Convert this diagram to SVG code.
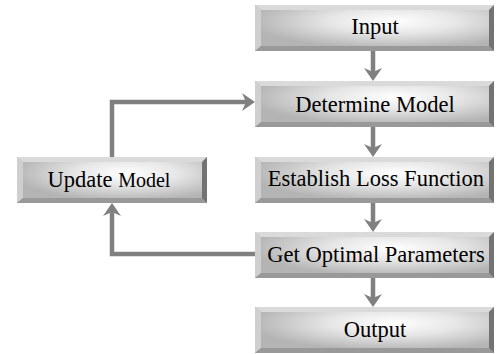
<svg xmlns="http://www.w3.org/2000/svg" width="501" height="354" viewBox="0 0 501 354">
<defs>
<radialGradient id="face" cx="0.58" cy="0.35" r="0.6" gradientUnits="objectBoundingBox">
<stop offset="0" stop-color="#ffffff"/>
<stop offset="0.45" stop-color="#e6e6e6"/>
<stop offset="1" stop-color="#b4b4b4"/>
</radialGradient>
<marker id="arr" markerUnits="userSpaceOnUse" markerWidth="20" markerHeight="20" viewBox="-14 -10 16 20" refX="-9" refY="0" orient="auto">
<path d="M0,0 L-13,-9 L-9,0 L-13,9 Z" fill="#808080"/>
</marker>
<style>
.face{fill:url(#face)}
.bt{fill:#dadada}
.bl{fill:#cfcfcf}
.bb{fill:#999999}
.br{fill:#737373}
.lbl{font-family:'Liberation Serif','DejaVu Serif',serif;font-size:22.5px;fill:#000;text-anchor:middle}
.con{fill:none;stroke:#808080;stroke-width:4.5}
</style>
</defs>
<rect width="501" height="354" fill="#ffffff"/>
<g id="connectors">
<path class="con" d="M373,51 V72" marker-end="url(#arr)"/>
<path class="con" d="M373,127 V148" marker-end="url(#arr)"/>
<path class="con" d="M373,203 V223" marker-end="url(#arr)"/>
<path class="con" d="M373,278 V298" marker-end="url(#arr)"/>
<path class="con" d="M112,157 V102 H246" marker-end="url(#arr)"/>
<path class="con" d="M256,254 H112 V212" marker-end="url(#arr)"/>
</g>
<g id="input" transform="translate(255,5)">
<rect class="face" x="0" y="0" width="239" height="46"/>
<polygon class="bt" points="0,0 239,0 234,5 6,5"/>
<polygon class="bl" points="0,0 6,5 6,41 0,46"/>
<polygon class="bb" points="0,46 6,41 234,41 239,46"/>
<polygon class="br" points="239,0 239,46 234,41 234,5"/>
<text class="lbl" font-family="Liberation Serif, serif" x="120" y="29">Input</text>
</g>
<g id="determine" transform="translate(255,81)">
<rect class="face" x="0" y="0" width="239" height="46"/>
<polygon class="bt" points="0,0 239,0 234,5 6,5"/>
<polygon class="bl" points="0,0 6,5 6,41 0,46"/>
<polygon class="bb" points="0,46 6,41 234,41 239,46"/>
<polygon class="br" points="239,0 239,46 234,41 234,5"/>
<text class="lbl" font-family="Liberation Serif, serif" x="120" y="31">Determine Model</text>
</g>
<g id="establish" transform="translate(255,157)">
<rect class="face" x="0" y="0" width="239" height="46"/>
<polygon class="bt" points="0,0 239,0 234,5 6,5"/>
<polygon class="bl" points="0,0 6,5 6,41 0,46"/>
<polygon class="bb" points="0,46 6,41 234,41 239,46"/>
<polygon class="br" points="239,0 239,46 234,41 234,5"/>
<text class="lbl" font-family="Liberation Serif, serif" x="121" y="29">Establish Loss Function</text>
</g>
<g id="optimal" transform="translate(255,232)">
<rect class="face" x="0" y="0" width="239" height="46"/>
<polygon class="bt" points="0,0 239,0 234,5 6,5"/>
<polygon class="bl" points="0,0 6,5 6,41 0,46"/>
<polygon class="bb" points="0,46 6,41 234,41 239,46"/>
<polygon class="br" points="239,0 239,46 234,41 234,5"/>
<text class="lbl" font-family="Liberation Serif, serif" x="121" y="30">Get Optimal Parameters</text>
</g>
<g id="output" transform="translate(255,307)">
<rect class="face" x="0" y="0" width="239" height="46"/>
<polygon class="bt" points="0,0 239,0 234,5 6,5"/>
<polygon class="bl" points="0,0 6,5 6,41 0,46"/>
<polygon class="bb" points="0,46 6,41 234,41 239,46"/>
<polygon class="br" points="239,0 239,46 234,41 234,5"/>
<text class="lbl" font-family="Liberation Serif, serif" x="120" y="30">Output</text>
</g>
<g id="update" transform="translate(17,157)">
<rect class="face" x="0" y="0" width="190" height="46"/>
<polygon class="bt" points="0,0 190,0 185,5 6,5"/>
<polygon class="bl" points="0,0 6,5 6,41 0,46"/>
<polygon class="bb" points="0,46 6,41 185,41 190,46"/>
<polygon class="br" points="190,0 190,46 185,41 185,5"/>
<text class="lbl" font-family="Liberation Serif, serif" x="92" y="30">Update <tspan font-size="20">Model</tspan></text>
</g>
</svg>
